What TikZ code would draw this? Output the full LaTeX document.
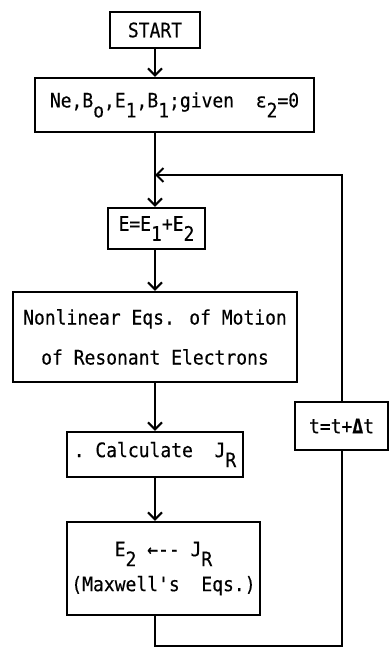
\documentclass[tikz,border=0pt]{standalone}
\usepackage{fontspec}
\newfontfamily\mono[FakeStretch=0.9,FakeBold=0.3]{DejaVu Sans Mono}
\usetikzlibrary{arrows.meta}
\newcommand\lo[1]{\raisebox{-0.5em}{#1}}
\begin{document}
\begin{tikzpicture}[x=1pt,y=-1pt,
 box/.style={draw, line width=2.4pt, inner sep=0pt, align=center, font=\mono\fontsize{20}{22}\selectfont},
 flow/.style={line width=2pt, -{Straight Barb[length=7pt,width=14pt,line width=2pt]}},
 link/.style={line width=2pt}]
\useasboundingbox (0,0) rectangle (389,650);
\node[box, minimum width=90pt, minimum height=36pt] (start) at (155,30) {START};
\node[box, minimum width=279pt, minimum height=54pt] (init) at (174.5,105) {Ne,B\lo{o},E\lo{1},B\lo{1};given\ \ ε\lo{2}=0};
\coordinate (J) at (155,175);
\node[box, minimum width=97pt, minimum height=41pt] (esum) at (156.5,228.5) {E=E\lo{1}+E\lo{2}};
\node[box, minimum width=284pt, minimum height=90pt, font=\mono\fontsize{20}{40}\selectfont] (motion) at (155,337) {Nonlinear Eqs. of Motion\\of Resonant Electrons};
\node[box, minimum width=176pt, minimum height=45pt] (calc) at (155,454.5) {.\ Calculate\ \ J\lo{R}};
\node[box, minimum width=193pt, minimum height=93pt, font=\mono\fontsize{20}{37}\selectfont] (maxw) at (163.5,568.5) {\raisebox{-8pt}{E\lo{2} ←-- J\lo{R}}\\\raisebox{-6pt}{(Maxwell's\ \ Eqs.)}};
\node[box, minimum width=93pt, minimum height=48pt] (tstep) at (341.5,426) {t=t+{\bfseries Δ}t};
\draw[flow] (start.south) -- (start.south |- init.north);
\draw[flow] (init.south -| J) -- (esum.north -| J);
\draw[flow] (esum.south -| J) -- (motion.north -| J);
\draw[flow] (motion.south -| J) -- (calc.north -| J);
\draw[flow] (calc.south -| J) -- (maxw.north -| J);
\draw[link] (maxw.south -| J) -- ++(0,30) -| (tstep.south);
\draw[flow] (tstep.north) |- (J);
\end{tikzpicture}
\end{document}
